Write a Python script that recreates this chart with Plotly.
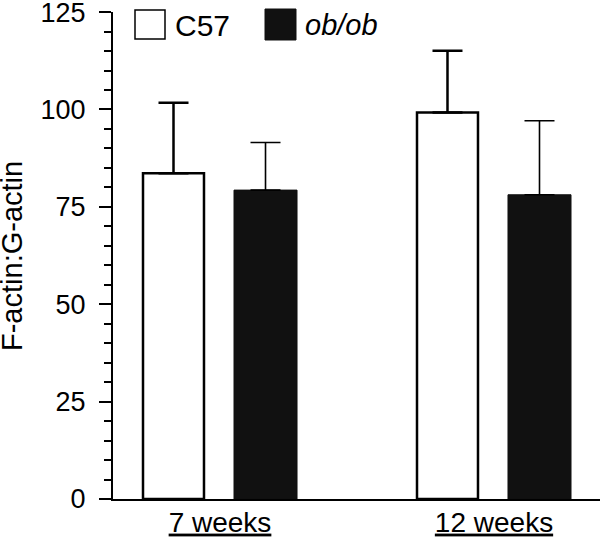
import plotly.graph_objects as go

groups = ["7 weeks", "12 weeks"]
group_pos = [0, 1]
c57_values = [83.6, 99.2]
c57_err = [18.1, 15.9]
ob_values = [79.3, 78.1]
ob_err = [12.2, 19.0]
y_ticks = [0, 25, 50, 75, 100, 125]

FONT = "Liberation Sans, Arial, Helvetica, sans-serif"

fig = go.Figure()
fig.add_trace(go.Bar(
    x=group_pos, y=c57_values, name="C57",
    width=0.2226, offset=-0.281,
    marker=dict(color="white", line=dict(color="black", width=2.5)),
    error_y=dict(type="data", symmetric=False, array=c57_err, arrayminus=[0, 0],
                 color="black", thickness=2.5, width=15),
    showlegend=False,
))
fig.add_trace(go.Bar(
    x=group_pos, y=ob_values, name="ob/ob",
    width=0.23, offset=0.0511,
    marker=dict(color="#111111", line=dict(color="#111111", width=1)),
    error_y=dict(type="data", symmetric=False, array=ob_err, arrayminus=[0, 0],
                 color="black", thickness=1.6, width=15),
    showlegend=False,
))

W, H = 600, 539
L, R, T, B = 113, 0, 12, 40
pw = W - L - R
ph = H - T - B

fig.update_layout(
    width=W, height=H,
    margin=dict(l=L, r=R, t=T, b=B, autoexpand=False),
    barmode="overlay",
    plot_bgcolor="white", paper_bgcolor="white",
    font=dict(family=FONT, color="black"),
    xaxis=dict(
        range=[-0.3905, 1.3869],
        tickvals=group_pos, ticktext=groups,
        tickfont=dict(size=28, lineposition="under"),
        showline=True, linecolor="black", linewidth=2,
        ticks="", showgrid=False, zeroline=False,
        automargin=False,
        ticklabelstandoff=-3,
        ticklabeloverflow="allow",
    ),
    yaxis=dict(
        range=[0, 125.02],
        tickvals=y_ticks,
        tickfont=dict(size=27),
        showline=True, linecolor="black", linewidth=2,
        ticks="outside", ticklen=12, tickwidth=2, tickcolor="black",
        minor=dict(dtick=5, ticks="outside", ticklen=7, tickwidth=2, tickcolor="black"),
        showgrid=False, zeroline=False,
        automargin=False,
        ticklabelstandoff=8,
        ticklabeloverflow="allow",
    ),
)

# positions in page pixels -> paper coords
def px(x):
    return (x - L) / pw

def py(y):
    return 1 - (y - T) / ph

# y-axis title
fig.add_annotation(xref="paper", yref="paper", x=px(12), y=py(256),
                   text="F-actin:G-actin", showarrow=False, textangle=-90,
                   xanchor="center", yanchor="middle",
                   font=dict(size=29, family=FONT))

# legend drawn manually (large square swatches)
fig.add_shape(type="rect", xref="paper", yref="paper",
              x0=px(135), x1=px(165), y0=py(39), y1=py(10),
              line=dict(color="black", width=1.5), fillcolor="white")
fig.add_shape(type="rect", xref="paper", yref="paper",
              x0=px(265), x1=px(296), y0=py(40), y1=py(9),
              line=dict(color="#111111", width=1), fillcolor="#111111")
fig.add_annotation(xref="paper", yref="paper", x=px(173), y=py(25),
                   text="C57", showarrow=False, xanchor="left", yanchor="middle",
                   font=dict(size=30, family=FONT))
fig.add_annotation(xref="paper", yref="paper", x=px(303), y=py(25),
                   text="<i>ob/ob</i>", showarrow=False, xanchor="left", yanchor="middle",
                   font=dict(size=29, family=FONT))

fig.write_html("out.html", config={"displayModeBar": False},
               post_script="document.body.style.margin='0';")
